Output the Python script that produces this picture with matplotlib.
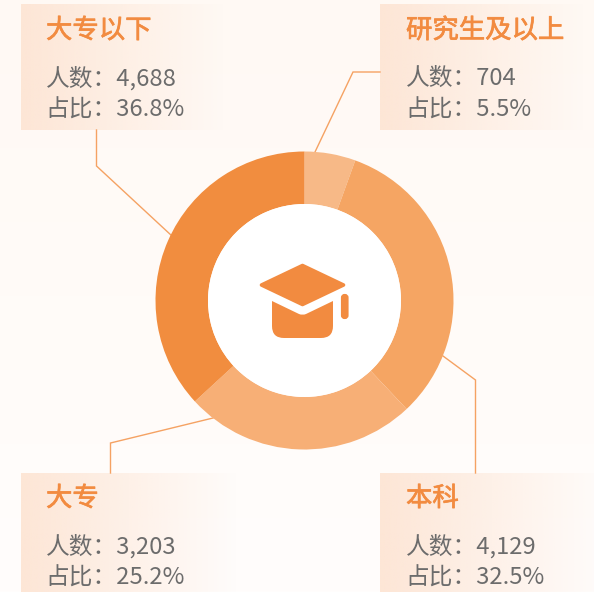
import numpy as np
import matplotlib

matplotlib.use("Agg")
import matplotlib.pyplot as plt
import matplotlib.patheffects as pe
from matplotlib.patches import FancyBboxPatch, PathPatch, Polygon
from matplotlib.path import Path

plt.rcParams["font.family"] = ["Noto Sans CJK SC", "DejaVu Sans"]

categories = ["研究生及以上", "本科", "大专", "大专以下"]
counts = [704, 4129, 3203, 4688]
shares = [5.5, 32.5, 25.2, 36.8]
colors = ["#F7B987", "#F5A563", "#F7AF76", "#F18D3F"]

W, H = 594, 592
ORANGE = "#F28B40"
GREY = "#6C6C6C"


def gradient(ax, extent, rgb, alpha_left, alpha_right):
    # horizontal fade, used for the label boxes
    n = 128
    img = np.zeros((1, n, 4))
    img[..., :3] = matplotlib.colors.to_rgb(rgb)
    img[..., 3] = np.linspace(alpha_left, alpha_right, n)
    ax.imshow(img, extent=extent, aspect="auto", zorder=1, interpolation="bilinear")


def draw_label(ax, x, y, title, count, share):
    t = ax.text(x, y + 1.5, title, color=ORANGE, fontsize=19, va="center", ha="left", zorder=4)
    t.set_path_effects([pe.withStroke(linewidth=0.5, foreground=ORANGE)])
    ax.text(x - 0.5, y + 49, f"人数：{count:,}", color=GREY, fontsize=17.1, va="center", ha="left", zorder=4)
    ax.text(x - 1, y + 81, f"占比：{share}%", color=GREY, fontsize=17.1, va="center", ha="left", zorder=4)


def draw_icon(ax):
    cap = Polygon(
        [(302.5, 265.5), (343.5, 285), (302.5, 304.5), (261.5, 285)],
        closed=True, fc=ORANGE, ec=ORANGE, lw=2.6, joinstyle="round", zorder=5,
    )
    ax.add_patch(cap)
    verts = [
        (272, 301), (299, 314), (302.5, 315.5), (306, 314), (333, 301),
        (333, 326), (333, 338), (321, 338), (284, 338), (272, 338), (272, 326), (272, 301),
    ]
    codes = [
        Path.MOVETO, Path.LINETO, Path.CURVE3, Path.CURVE3, Path.LINETO,
        Path.LINETO, Path.CURVE3, Path.CURVE3, Path.LINETO, Path.CURVE3, Path.CURVE3, Path.CLOSEPOLY,
    ]
    ax.add_patch(PathPatch(Path(verts, codes), fc=ORANGE, ec="none", zorder=5))
    tassel = FancyBboxPatch(
        (343, 296), 3.5, 21, boxstyle="round,pad=0,rounding_size=1.7",
        fc=ORANGE, ec=ORANGE, lw=3, zorder=5,
    )
    ax.add_patch(tassel)


fig = plt.figure(figsize=(W / 100, H / 100), dpi=100)
ax = fig.add_axes([0, 0, 1, 1])

bg = np.zeros((H, 1, 3))
bg[:, 0, :] = np.linspace(
    matplotlib.colors.to_rgb("#FFF9F4"), matplotlib.colors.to_rgb("#FFFDFC"), H
)
ax.imshow(bg, extent=(0, W, H, 0), aspect="auto", zorder=0)

# y axis is flipped, so counterclock=True reads clockwise on screen
ax.pie(
    counts, colors=colors, center=(304.5, 300.5), radius=149,
    startangle=-90, counterclock=True,
    wedgeprops={"width": 52.5, "linewidth": 0},
    frame=True,
)
for w in ax.patches:
    w.set_zorder(3)
ax.add_patch(plt.Circle((304.5, 300.5), 96.5, fc="white", ec="none", zorder=3))

gradient(ax, (21, 225, 130, 4), "#FDE6D6", 1.0, 0.0)
gradient(ax, (380, 585, 130, 4), "#FDE6D6", 1.0, 0.0)
gradient(ax, (21, 238, 592, 473), "#FDE6D6", 1.0, 0.0)
gradient(ax, (380, 594, 592, 473), "#FDE6D6", 1.0, 0.05)

leaders = [
    ([315, 353, 380], [152, 72, 72]),
    ([443, 475.5, 475.5], [356, 380, 473]),
    ([213, 110.5, 110.5], [418, 443, 473]),
    ([172, 96.5, 96.5], [236, 166, 130]),
]
for xs, ys in leaders:
    ax.plot(xs, ys, color="#F5A263", lw=1.0, zorder=2, solid_joinstyle="miter")

draw_label(ax, 406, 29, categories[0], counts[0], shares[0])
draw_label(ax, 406, 497, categories[1], counts[1], shares[1])
draw_label(ax, 46, 497, categories[2], counts[2], shares[2])
draw_label(ax, 46, 29, categories[3], counts[3], shares[3])

draw_icon(ax)

ax.set_xlim(0, W)
ax.set_ylim(H, 0)
ax.set_aspect("auto")
ax.axis("off")

fig.savefig("out.png", dpi=100)
